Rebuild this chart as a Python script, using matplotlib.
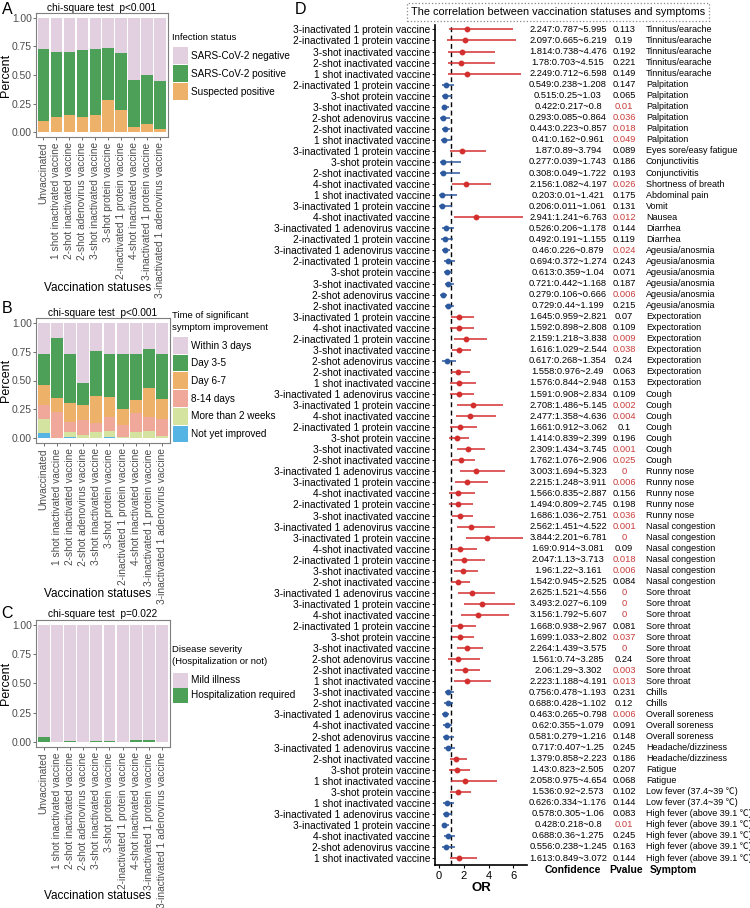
import matplotlib
matplotlib.use("Agg")
import matplotlib.pyplot as plt
from matplotlib.patches import Patch
import matplotlib.transforms as mtransforms
import numpy as np

plt.rcParams['font.family'] = ['Liberation Sans', 'Noto Sans CJK SC', 'DejaVu Sans']

# ---------------- data ----------------
vacc_cats = ["Unvaccinated", "1 shot inactivated vaccine", "2-shot inactivated vaccine",
             "2-shot adenovirus vaccine", "3-shot inactivated vaccine", "3-shot protein vaccine",
             "2-inactivated 1 protein vaccine", "4-shot inactivated vaccine",
             "3-inactivated 1 protein vaccine", "3-inactivated 1 adenovirus vaccine"]

# Panel A: infection status proportions
a_suspected = [0.096, 0.130, 0.154, 0.133, 0.154, 0.278, 0.197, 0.043, 0.067, 0.029]
a_positive = [0.629, 0.574, 0.550, 0.586, 0.574, 0.461, 0.493, 0.409, 0.434, 0.420]
a_negative = [0.275, 0.296, 0.296, 0.281, 0.272, 0.261, 0.310, 0.548, 0.499, 0.551]

# Panel B: time of significant symptom improvement
b_not_yet = [0.043, 0.000, 0.010, 0.000, 0.003, 0.006, 0.000, 0.000, 0.000, 0.000]
b_more2w = [0.122, 0.003, 0.042, 0.029, 0.046, 0.052, 0.012, 0.052, 0.058, 0.020]
b_d8_14 = [0.122, 0.220, 0.087, 0.125, 0.081, 0.125, 0.104, 0.165, 0.122, 0.145]
b_d6_7 = [0.177, 0.125, 0.165, 0.133, 0.238, 0.174, 0.139, 0.113, 0.252, 0.174]
b_d3_5 = [0.269, 0.522, 0.429, 0.191, 0.391, 0.376, 0.478, 0.403, 0.342, 0.389]
b_within3 = [0.267, 0.130, 0.267, 0.522, 0.241, 0.267, 0.267, 0.267, 0.226, 0.272]

# Panel C: disease severity
c_hosp = [0.040, 0.000, 0.006, 0.000, 0.005, 0.005, 0.000, 0.015, 0.018, 0.000]
c_mild = [1 - h for h in c_hosp]

# Panel D: forest plot (top to bottom)
d_vaccine = [
    "3-inactivated 1 protein vaccine", "2-inactivated 1 protein vaccine", "3-shot inactivated vaccine",
    "2-shot inactivated vaccine", "1 shot inactivated vaccine",
    "2-inactivated 1 protein vaccine", "3-shot protein vaccine", "3-shot inactivated vaccine",
    "2-shot adenovirus vaccine", "2-shot inactivated vaccine", "1 shot inactivated vaccine",
    "3-inactivated 1 protein vaccine",
    "3-shot protein vaccine", "2-shot inactivated vaccine",
    "4-shot inactivated vaccine",
    "1 shot inactivated vaccine",
    "3-inactivated 1 protein vaccine",
    "4-shot inactivated vaccine",
    "3-inactivated 1 adenovirus vaccine", "2-inactivated 1 protein vaccine",
    "3-inactivated 1 adenovirus vaccine", "2-inactivated 1 protein vaccine", "3-shot protein vaccine",
    "3-shot inactivated vaccine", "2-shot adenovirus vaccine", "2-shot inactivated vaccine",
    "3-inactivated 1 protein vaccine", "4-shot inactivated vaccine", "2-inactivated 1 protein vaccine",
    "3-shot inactivated vaccine", "2-shot adenovirus vaccine", "2-shot inactivated vaccine",
    "1 shot inactivated vaccine",
    "3-inactivated 1 adenovirus vaccine", "3-inactivated 1 protein vaccine", "4-shot inactivated vaccine",
    "2-inactivated 1 protein vaccine", "3-shot protein vaccine", "3-shot inactivated vaccine",
    "2-shot inactivated vaccine",
    "3-inactivated 1 adenovirus vaccine", "3-inactivated 1 protein vaccine", "4-shot inactivated vaccine",
    "2-inactivated 1 protein vaccine", "3-shot inactivated vaccine",
    "3-inactivated 1 adenovirus vaccine", "3-inactivated 1 protein vaccine", "4-shot inactivated vaccine",
    "2-inactivated 1 protein vaccine", "3-shot inactivated vaccine", "2-shot inactivated vaccine",
    "3-inactivated 1 adenovirus vaccine", "3-inactivated 1 protein vaccine", "4-shot inactivated vaccine",
    "2-inactivated 1 protein vaccine", "3-shot protein vaccine", "3-shot inactivated vaccine",
    "2-shot adenovirus vaccine", "2-shot inactivated vaccine", "1 shot inactivated vaccine",
    "3-shot inactivated vaccine", "2-shot inactivated vaccine",
    "3-inactivated 1 adenovirus vaccine", "4-shot inactivated vaccine", "2-shot adenovirus vaccine",
    "3-inactivated 1 adenovirus vaccine", "2-shot inactivated vaccine",
    "3-shot protein vaccine", "1 shot inactivated vaccine",
    "3-shot protein vaccine", "1 shot inactivated vaccine",
    "3-inactivated 1 adenovirus vaccine", "3-inactivated 1 protein vaccine", "4-shot inactivated vaccine",
    "2-shot adenovirus vaccine", "1 shot inactivated vaccine",
]
d_or = [2.247, 2.097, 1.814, 1.78, 2.249,
        0.549, 0.515, 0.422, 0.293, 0.443, 0.41,
        1.87,
        0.277, 0.308,
        2.156,
        0.203,
        0.206,
        2.941,
        0.526, 0.492,
        0.46, 0.694, 0.613, 0.721, 0.279, 0.729,
        1.645, 1.592, 2.159, 1.616, 0.617, 1.558, 1.576,
        1.591, 2.708, 2.477, 1.661, 1.414, 2.309, 1.762,
        3.003, 2.215, 1.566, 1.494, 1.686,
        2.562, 3.844, 1.69, 2.047, 1.96, 1.542,
        2.625, 3.493, 3.156, 1.668, 1.699, 2.264, 1.561, 2.06, 2.223,
        0.756, 0.688,
        0.463, 0.62, 0.581,
        0.717, 1.379,
        1.43, 2.058,
        1.536, 0.626,
        0.578, 0.428, 0.688, 0.556, 1.613]
d_lo = [0.787, 0.665, 0.738, 0.703, 0.712,
        0.238, 0.25, 0.217, 0.085, 0.223, 0.162,
        0.89,
        0.039, 0.049,
        1.082,
        0.01,
        0.011,
        1.241,
        0.206, 0.191,
        0.226, 0.372, 0.359, 0.442, 0.106, 0.44,
        0.959, 0.898, 1.218, 1.029, 0.268, 0.976, 0.844,
        0.908, 1.486, 1.358, 0.912, 0.839, 1.434, 1.076,
        1.694, 1.248, 0.835, 0.809, 1.036,
        1.451, 2.201, 0.914, 1.13, 1.22, 0.945,
        1.521, 2.027, 1.792, 0.938, 1.033, 1.439, 0.74, 1.29, 1.188,
        0.478, 0.428,
        0.265, 0.355, 0.279,
        0.407, 0.858,
        0.823, 0.975,
        0.92, 0.334,
        0.305, 0.218, 0.36, 0.238, 0.849]
d_hi = [5.995, 6.219, 4.476, 4.515, 6.598,
        1.208, 1.03, 0.8, 0.864, 0.857, 0.961,
        3.794,
        1.743, 1.722,
        4.197,
        1.421,
        1.061,
        6.763,
        1.178, 1.155,
        0.879, 1.274, 1.04, 1.168, 0.666, 1.199,
        2.821, 2.808, 3.838, 2.544, 1.354, 2.49, 2.948,
        2.834, 5.145, 4.636, 3.062, 2.399, 3.745, 2.906,
        5.323, 3.911, 2.887, 2.745, 2.751,
        4.522, 6.781, 3.081, 3.713, 3.161, 2.525,
        4.556, 6.109, 5.607, 2.967, 2.802, 3.575, 3.285, 3.302, 4.191,
        1.193, 1.102,
        0.798, 1.079, 1.216,
        1.25, 2.223,
        2.505, 4.654,
        2.573, 1.176,
        1.06, 0.8, 1.275, 1.245, 3.072]
d_p = [0.113, 0.19, 0.192, 0.221, 0.149,
       0.147, 0.065, 0.01, 0.036, 0.018, 0.049,
       0.089,
       0.186, 0.193,
       0.026,
       0.175,
       0.131,
       0.012,
       0.144, 0.119,
       0.024, 0.243, 0.071, 0.187, 0.006, 0.215,
       0.07, 0.109, 0.009, 0.038, 0.24, 0.063, 0.153,
       0.109, 0.002, 0.004, 0.1, 0.196, 0.001, 0.025,
       0, 0.006, 0.156, 0.198, 0.036,
       0.001, 0, 0.09, 0.018, 0.006, 0.084,
       0, 0, 0, 0.081, 0.037, 0, 0.24, 0.003, 0.013,
       0.231, 0.12,
       0.006, 0.091, 0.148,
       0.245, 0.186,
       0.207, 0.068,
       0.102, 0.144,
       0.083, 0.01, 0.245, 0.163, 0.144]
d_symptom = (["Tinnitus/earache"] * 5 + ["Palpitation"] * 6 + ["Eyes sore/easy fatigue"]
             + ["Conjunctivitis"] * 2 + ["Shortness of breath"] + ["Abdominal pain"] + ["Vomit"]
             + ["Nausea"] + ["Diarrhea"] * 2 + ["Ageusia/anosmia"] * 6 + ["Expectoration"] * 7
             + ["Cough"] * 7 + ["Runny nose"] * 5 + ["Nasal congestion"] * 6 + ["Sore throat"] * 9
             + ["Chills"] * 2 + ["Overall soreness"] * 3 + ["Headache/dizziness"] * 2
             + ["Fatigue"] * 2 + ["Low fever (37.4~39 \u2103)"] * 2
             + ["High fever (above 39.1 \u2103)"] * 5)

# ---------------- figure ----------------
W, H = 750, 908
fig = plt.figure(figsize=(W / 100, H / 100), dpi=100)
fig.patch.set_facecolor("white")


def px_axes(x0, y0, x1, y1):
    return fig.add_axes([x0 / W, 1 - y1 / H, (x1 - x0) / W, (y1 - y0) / H])


PINK = "#E2D0E0"
GREEN = "#4CA057"
ORANGE = "#EDB16A"
SALMON = "#F0A89B"
LGREEN = "#D4E4A0"
BLUE = "#56B4E4"
GRAY_TXT = "#4D4D4D"
FS = 6.7        # table text in panel D
FSL = 7.3       # vaccine labels


def style_bar_axes(ax, box, xlab_center_y):
    x0, y0, x1, y1 = box
    x = np.arange(len(vacc_cats))
    ax.set_xlim(-0.6, len(vacc_cats) - 0.4)
    ax.set_ylim(-0.04, 1.04)
    ax.set_xticks(x, labels=vacc_cats, rotation=90, fontsize=FSL, color=GRAY_TXT)
    ax.set_yticks([0, 0.25, 0.5, 0.75, 1.0], labels=["0.00", "0.25", "0.50", "0.75", "1.00"],
                  fontsize=7.4, color=GRAY_TXT)
    ax.tick_params(axis="x", length=2.5, width=0.6, color="#555555", pad=1.5)
    ax.tick_params(axis="y", length=2.2, width=0.6, color="#555555", pad=0.6)
    for s in ax.spines.values():
        s.set_color("#7F7F7F")
        s.set_linewidth(0.8)
    ax.set_ylabel("Percent", fontsize=9)
    ax.yaxis.label.set_va("center")
    ax.yaxis.set_label_coords((6.5 - x0) / (x1 - x0), 0.5)
    ax.set_xlabel("Vaccination statuses", fontsize=8.5)
    ax.xaxis.label.set_va("center")
    ax.xaxis.set_label_coords((97.5 - x0) / (x1 - x0), (y1 - xlab_center_y) / (y1 - y0))


def stack(ax, series, colors, labels):
    x = np.arange(len(vacc_cats))
    bottom = np.zeros(len(vacc_cats))
    handles = []
    for vals, col, lab in zip(series, colors, labels):
        v = np.array(vals)
        ax.bar(x, v, bottom=bottom, width=0.9, color=col, edgecolor="none", label=lab)
        bottom += v
        handles.append(Patch(facecolor=col, edgecolor="none", label=lab))
    return handles


def add_legend(ax, handles, title_lines, title_ys, key_top, key_h, step):
    fs = 7.2
    kh_pt = key_h * 0.72
    hh = (kh_pt / fs - 0.245) / 0.65
    ls = (step - key_h) * 0.72 / fs
    ax.legend(handles=handles, loc="upper left",
              bbox_to_anchor=(173 / W, 1 - key_top / H), bbox_transform=fig.transFigure,
              frameon=False, fontsize=fs, borderpad=0, borderaxespad=0,
              handlelength=15 * 0.72 / fs, handleheight=hh, labelspacing=ls,
              handletextpad=0.3)
    for t, ty in zip(title_lines, title_ys):
        fig.text(172 / W, 1 - ty / H, t, fontsize=6.8, ha="left", va="center")


# Panel A
boxA = (35.7, 13.3, 168, 136.7)
axA = px_axes(*boxA)
hA = stack(axA, [a_suspected, a_positive, a_negative], [ORANGE, GREEN, PINK],
           ["Suspected positive", "SARS-CoV-2 positive", "SARS-CoV-2 negative"])
style_bar_axes(axA, boxA, 287.5)
axA.set_title("chi-square test  p<0.001", fontsize=7.3, pad=2)
add_legend(axA, hA[::-1], ["Infection status"], [37], 47, 17, 18)

# Panel B
boxB = (35.7, 318.3, 170, 442.7)
axB = px_axes(*boxB)
hB = stack(axB, [b_not_yet, b_more2w, b_d8_14, b_d6_7, b_d3_5, b_within3],
           [BLUE, LGREEN, SALMON, ORANGE, GREEN, PINK],
           ["Not yet improved", "More than 2 weeks", "8-14 days", "Day 6-7", "Day 3-5", "Within 3 days"])
style_bar_axes(axB, boxB, 594)
axB.set_title("chi-square test  p<0.001", fontsize=7.3, pad=2)
add_legend(axB, hB[::-1], ["Time of significant", "symptom improvement"], [316, 327.5],
           337, 16.8, 17.7)

# Panel C
boxC = (35.7, 620, 170, 746.7)
axC = px_axes(*boxC)
hC = stack(axC, [c_hosp, c_mild], [GREEN, PINK], ["Hospitalization required", "Mild illness"])
style_bar_axes(axC, boxC, 896)
axC.set_title("chi-square test  p=0.022", fontsize=7.3, pad=2)
add_legend(axC, hC[::-1], ["Disease severity", "(Hospitalization or not)"], [650, 661],
           673, 14.5, 15)

# panel letters
for lab, (px, py) in {"A": (7, 10), "B": (7, 309), "C": (7, 614), "D": (301, 10)}.items():
    fig.text(px / W, 1 - py / H, lab, fontsize=11.5, ha="center", va="center")

# Panel D
RED = "#D42F2F"
DBLUE = "#2D5A9E"
n = len(d_vaccine)
ypos = np.arange(n, 0, -1)
axD = px_axes(435, 25, 527, 865)
axD.axvline(1, color="black", lw=1.0, ls=(0, (3.5, 2.5)), zorder=1)
for y, o, lo, hi in zip(ypos, d_or, d_lo, d_hi):
    col = RED if o > 1 else DBLUE
    axD.hlines(y, lo, hi, color=col, lw=1.1, zorder=2)
    axD.plot(o, y, "o", color=col, ms=3.2, zorder=3)
axD.set_ylim(1 - 0.63, n + 0.4)
axD.set_xlim(-0.33, 7.1)
axD.set_yticks(ypos, labels=d_vaccine, fontsize=FSL, color="black")
axD.set_xticks([0, 2, 4, 6], labels=["0", "2", "4", "6"], fontsize=8)
axD.tick_params(axis="y", length=2.5, width=0.6, pad=1)
axD.tick_params(axis="x", length=2.5, width=0.8, pad=1.5)
for s in ["top", "right"]:
    axD.spines[s].set_visible(False)
for s in ["left", "bottom"]:
    axD.spines[s].set_linewidth(1.2)
axD.set_xlabel("OR", fontsize=9.5, fontweight="bold", labelpad=1)

tr = mtransforms.blended_transform_factory(fig.transFigure, axD.transData)
for y, o, lo, hi, p, sym in zip(ypos, d_or, d_lo, d_hi, d_p, d_symptom):
    axD.text(568 / W, y, f"{o:g}:{lo:g}~{hi:g}", transform=tr, ha="center", va="center",
             fontsize=FS, clip_on=False)
    axD.text(624 / W, y, f"{p:g}", transform=tr, ha="center", va="center", fontsize=FS,
             color=("#C83C3C" if p < 0.05 else "black"), clip_on=False)
    axD.text(646 / W, y, sym, transform=tr, ha="left", va="center", fontsize=6.45, clip_on=False)

for txt, px in [("Confidence", 573), ("Pvalue", 626), ("Symptom", 673)]:
    fig.text(px / W, 1 - 870 / H, txt, ha="center", va="center", fontsize=7.5, fontweight="bold")

fig.text(558 / W, 1 - 12 / H, "The correlation between vaccination statuses and symptoms",
         ha="center", va="center", fontsize=7.8,
         bbox=dict(boxstyle="square,pad=0.35", fc="white", ec="#888888", ls=":", lw=0.9))

fig.savefig("out.png", dpi=100)
